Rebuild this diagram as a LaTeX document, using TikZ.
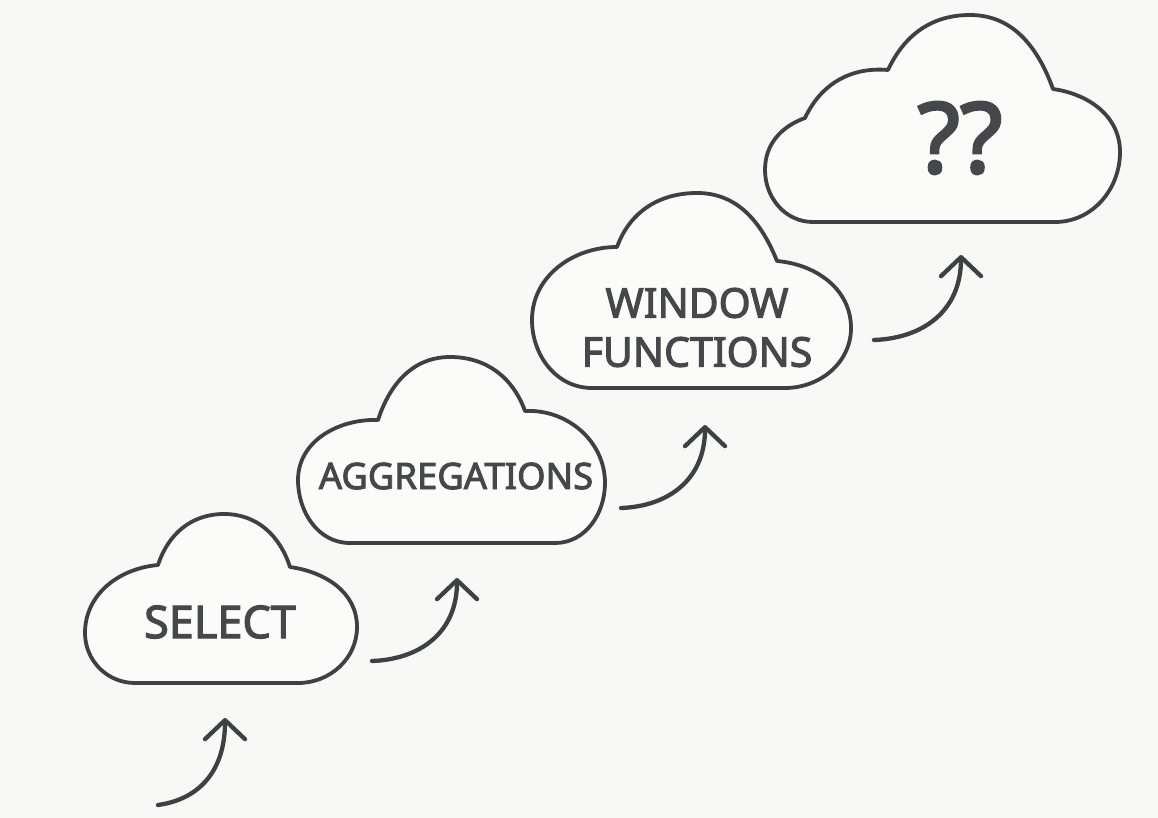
\documentclass[tikz,border=0pt]{standalone}
\usepackage{fontspec}
\setmainfont{Noto Sans}
\newfontfamily\lblfont[FakeBold=2.6]{Noto Sans}
\usetikzlibrary{arrows.meta}
\definecolor{bg}{HTML}{F8F8F6}
\definecolor{ink}{HTML}{3E4144}
\definecolor{txt}{HTML}{45474A}
\begin{document}
\begin{tikzpicture}[x=1pt,y=1pt,
  cloudline/.style={draw=ink,line width=3.8pt,line join=round,fill=white!40!bg},
  lbl/.style={text=txt,inner sep=0pt,align=center,font=\lblfont\fontsize{#1}{#1}\selectfont},
  stepline/.style={draw=ink,line width=4.3pt,line cap=round,
    -{Straight Barb[length=19pt,width=40pt,round]}}]
\useasboundingbox (0,0) rectangle (1158,-818);
\fill[bg] (0,0) rectangle (1158,-818);

% cloud 1: SELECT
\path[cloudline] (220,-683) -- (135,-683) to[out=180,in=-90] (85,-633)
  to[out=90,in=185] (158,-565) to[out=72,in=180] (224,-514)
  to[out=0,in=108] (290,-567) to[out=-8,in=90] (357,-627)
  to[out=-90,in=0] (298,-683) -- cycle;
% cloud 2: AGGREGATIONS
\path[cloudline] (450,-543) -- (350,-543) to[out=180,in=-90] (298,-480)
  to[out=90,in=178] (378,-420) to[out=72,in=180] (450,-357)
  to[out=0,in=110] (525,-411) to[out=3,in=90] (605,-483)
  to[out=-90,in=0] (555,-543) -- cycle;
% cloud 3: WINDOW FUNCTIONS
\path[cloudline] (700,-388) -- (592,-388) to[out=180,in=-90] (532,-320)
  to[out=90,in=180] (617,-247) to[out=70,in=180] (697,-193)
  to[out=0,in=112] (777,-261) to[out=-5,in=90] (851,-328)
  to[out=-90,in=0] (785,-388) -- cycle;
% cloud 4: ??
\path[cloudline] (950,-222) -- (813,-222) to[out=180,in=-90] (765,-170)
  to[out=90,in=200] (805,-118) to[out=65,in=175] (888,-70)
  to[out=65,in=180] (970,-15) to[out=0,in=110] (1053,-89)
  to[out=-8,in=90] (1120,-152) to[out=-90,in=0] (1055,-222) -- cycle;

\node[lbl=45] (sel) at (220,-622) {SELECT};
\node[lbl=36.4] (agg) at (456,-476) {AGGREGATIONS};
\node[lbl=41,font=\lblfont\fontsize{41}{49}\selectfont] (win) at (697,-327.5) {WINDOW\\FUNCTIONS};
\node[lbl=98] (qq) at (960,-138) {??};

\coordinate (a0s) at (158,-805); \coordinate (a0e) at (225,-718);
\coordinate (a1s) at (372,-661); \coordinate (a1e) at (457,-578);
\coordinate (a2s) at (621,-508); \coordinate (a2e) at (705,-425);
\coordinate (a3s) at (874,-340); \coordinate (a3e) at (961,-255);

\draw[stepline] (a0s) to[out=8,in=-90,in looseness=1.2] (a0e);
\draw[stepline] (a1s) to[out=2,in=-90,in looseness=1.2] (a1e);
\draw[stepline] (a2s) to[out=2,in=-90,in looseness=1.2] (a2e);
\draw[stepline] (a3s) to[out=2,in=-90,in looseness=1.2] (a3e);
\end{tikzpicture}
\end{document}
